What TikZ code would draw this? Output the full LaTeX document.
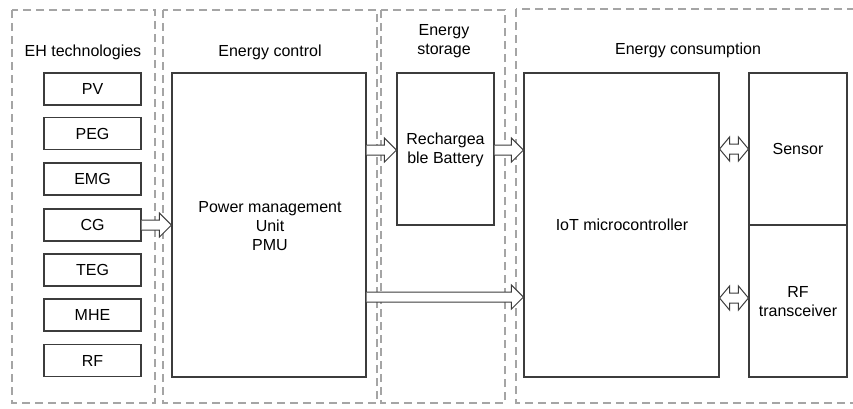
\documentclass[tikz,border=0pt]{standalone}
\usepackage{fontspec}
\setmainfont{Liberation Sans}
\usetikzlibrary{calc}
\definecolor{dashgray}{RGB}{165,165,165}
\definecolor{boxgray}{RGB}{60,60,60}
\tikzset{
  group/.style={draw=dashgray, line width=2.5pt, dash pattern=on 8pt off 5pt},
  blk/.style={draw=boxgray, line width=1.1pt, fill=white, inner sep=0pt},
  lbl/.style={font=\fontsize{16}{19}\selectfont, align=center, inner sep=0pt},
  barrow/.style={draw=boxgray, line width=1pt, fill=white, line join=miter}
}
\newcommand{\sarrow}[2]{%
  \draw[barrow] ($(#1)+(0,-5)$) -- ($(#2)+(-12,-5)$) -- ($(#2)+(-12,-12)$) -- (#2)
    -- ($(#2)+(-12,12)$) -- ($(#2)+(-12,5)$) -- ($(#1)+(0,5)$);}
\newcommand{\darrow}[2]{%
  \draw[barrow] (#1) -- ($(#1)+(10,-12)$) -- ($(#1)+(10,-5)$) -- ($(#2)+(-10,-5)$)
    -- ($(#2)+(-10,-12)$) -- (#2) -- ($(#2)+(-10,12)$) -- ($(#2)+(-10,5)$)
    -- ($(#1)+(10,5)$) -- ($(#1)+(10,12)$) -- cycle;}
\begin{document}
\begin{tikzpicture}[x=1pt,y=-1pt]
\clip (0,0) rectangle (853,408);
\fill[white] (0,0) rectangle (853,408);
% group frames
\draw[group] (12,10) rectangle (155,403);
\draw[group] (163,10) rectangle (377,403);
\draw[group] (381,10) rectangle (505,403);
\draw[group] (516,9) rectangle (870,403);
% group titles
\node[lbl] (t1) at (83,52) {EH technologies};
\node[lbl] (t2) at (270,52) {Energy control};
\node[lbl] (t3) at (444,41) {Energy\\storage};
\node[lbl] (t4) at (688,50) {Energy consumption};
% EH sources
\foreach \n/\t/\y in {pv/PV/89, peg/PEG/133.5, emg/EMG/179, cg/CG/225, teg/TEG/270, mhe/MHE/315, rf/RF/360.5}{
  \node[blk, lbl, minimum width=97pt, minimum height=32pt] (\n) at (92.5,\y) {\t};
}
% PMU
\node[blk, minimum width=194pt, minimum height=304pt] (pmu) at (269,225) {};
\node[lbl] (pmut) at (270,226) {Power management\\Unit\\PMU};
% battery
\node[blk, minimum width=97pt, minimum height=152pt] (bat) at (445.5,149) {};
\node[lbl] (batt) at (445.5,150) {Rechargea\\ble Battery};
% IoT
\node[blk, minimum width=195pt, minimum height=304pt] (iot) at (621.5,225) {};
\node[lbl] (iott) at (622,225) {IoT microcontroller};
% sensor / RF
\node[blk, minimum width=98pt, minimum height=152pt] (sen) at (798,149) {};
\node[lbl] (sent) at (798,149) {Sensor};
\node[blk, minimum width=98pt, minimum height=152pt] (rft) at (798,301) {};
\node[lbl] (rftt) at (798,302) {RF\\transceiver};
% connectors
\coordinate (a1s) at (cg.east);
\coordinate (a1e) at (pmu.west |- cg.east);
\sarrow{a1s}{a1e}
\coordinate (a2s) at ($(pmu.east) + (0,-75)$);
\coordinate (a2e) at (bat.west |- a2s);
\sarrow{a2s}{a2e}
\coordinate (a3s) at (bat.east |- a2s);
\coordinate (a3e) at (iot.west |- a2s);
\sarrow{a3s}{a3e}
\coordinate (a4s) at ($(pmu.east)+(0,72)$);
\coordinate (a4e) at (iot.west |- a4s);
\sarrow{a4s}{a4e}
\coordinate (d1s) at (iot.east |- sen.west);
\coordinate (d1e) at (sen.west);
\darrow{d1s}{d1e}
\coordinate (d2s) at ($(iot.east)+(0,73)$);
\coordinate (d2e) at (rft.west |- d2s);
\darrow{d2s}{d2e}
\end{tikzpicture}
\end{document}
